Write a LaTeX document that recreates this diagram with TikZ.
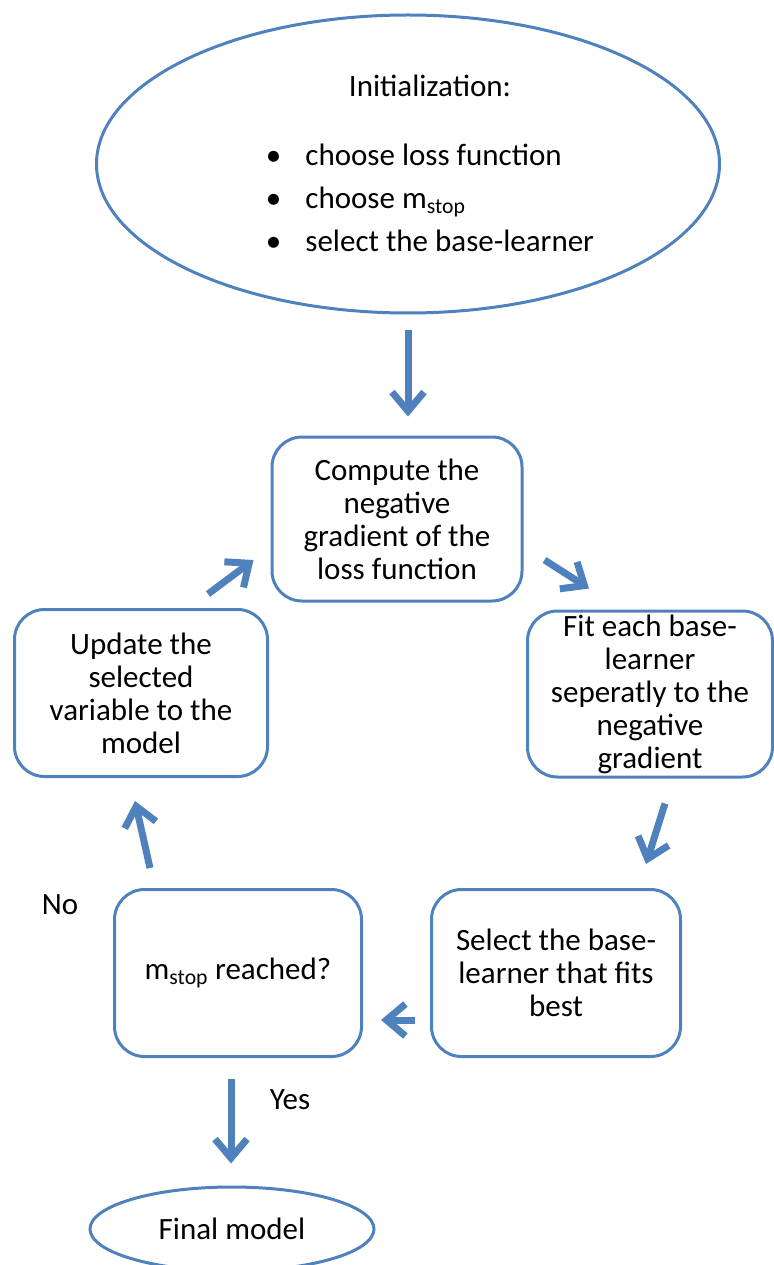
\documentclass[tikz,border=0pt]{standalone}
\usepackage{fontspec}
\setmainfont{Carlito}
\usepackage{tikz}
\usetikzlibrary{shapes.geometric}
\usetikzlibrary{arrows.meta}
\definecolor{officeBlue}{RGB}{79,129,189}
\tikzstyle{stepBox}=[draw=officeBlue, line width=3pt, rounded corners=30pt, align=center, inner sep=0pt]
\tikzstyle{ovalBox}=[ellipse, draw=officeBlue, line width=3pt, inner sep=0pt]
\tikzstyle{flowArrow}=[officeBlue, line width=7pt, -{Straight Barb[length=19pt,width=32pt]}]

\begin{document}
\begin{tikzpicture}[x=1pt, y=-1pt, font=\fontsize{31}{33}\selectfont]
  \useasboundingbox (0,0) rectangle (773,1265);

  % Nodes
  \node [ovalBox, minimum width=623pt, minimum height=298pt] (init) at (408,164) {};
  \node (inittext) at (430,165) [font=\fontsize{31}{43}\selectfont] {%
    \begin{tabular}{@{}c@{\hspace{24pt}}l@{}}
      \multicolumn{2}{c}{Initialization:}\\[26pt]
      \textbullet & choose loss function\\
      \textbullet & choose m\textsubscript{stop}\\
      \textbullet & select the base-learner
    \end{tabular}};

  \node (compute) at (397,519) [stepBox, minimum width=250pt, minimum height=164pt] {Compute the\\negative\\gradient of the\\loss function};
  \node (fit) at (650,694) [stepBox, minimum width=245pt, minimum height=166pt] {Fit each base-\\learner\\seperatly to the\\negative\\gradient};
  \node (select) at (556,973) [stepBox, minimum width=249pt, minimum height=167pt] {Select the base-\\learner that fits\\best};
  \node (mstop) at (238,973) [stepBox, minimum width=247pt, minimum height=167pt] {m\textsubscript{stop} reached?};
  \node (update) at (141,693) [stepBox, minimum width=253pt, minimum height=167pt] {Update the\\selected\\variable to the\\model};
  \node [ovalBox, minimum width=284pt, minimum height=84pt] (final) at (232,1229) {Final model};

  \node (no) at (60,905) {No};
  \node (yes) at (290,1100) {Yes};

  % Arrows
  \draw[flowArrow] ([shift={(0,15)}]init.south) -- ([shift={(11,-19)}]compute.north);
  \draw[flowArrow] ([shift={(21,41)}]compute.east) -- ([shift={(63,-21)}]fit.north west);
  \draw[flowArrow] ([shift={(15,25)}]fit.south) -- ([shift={(-36,-24)}]select.north east);
  \draw[flowArrow] ([shift={(-15,47)}]select.west) -- ([shift={(18,47)}]mstop.east);
  \draw[flowArrow] ([shift={(37,-20)}]mstop.north west) -- ([shift={(-6,23)}]update.south);
  \draw[flowArrow] ([shift={(-61,-14)}]update.north east) -- ([shift={(-17,41)}]compute.west);
  \draw[flowArrow] ([shift={(-7,21)}]mstop.south) -- ([shift={(-1,-22)}]final.north);

\end{tikzpicture}
\end{document}
